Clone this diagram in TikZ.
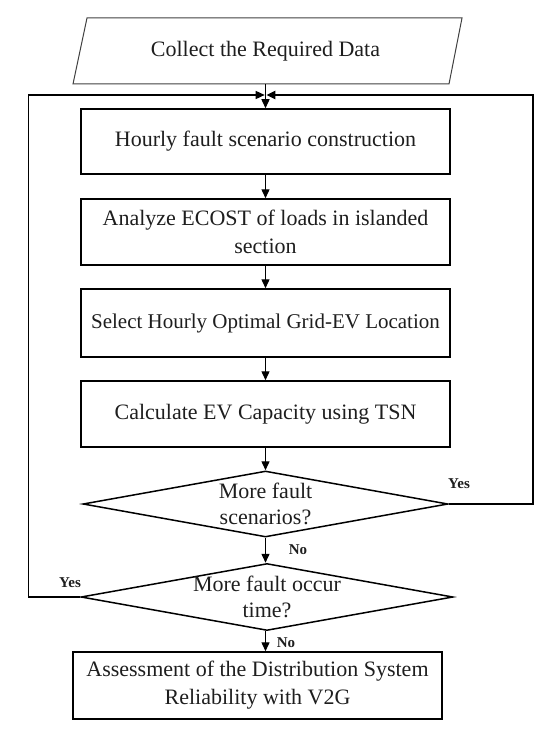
\documentclass[tikz,border=0pt]{standalone}
\usepackage{fontspec}
\setmainfont{Liberation Serif}
\usetikzlibrary{arrows.meta,shapes.geometric,calc}
\definecolor{ink}{HTML}{1E1E1E}
\tikzset{
  procbox/.style={draw=black, line width=1.5pt, minimum width=369pt, inner sep=0pt,
    align=center, text=ink, font=\fontsize{22}{28}\selectfont},
  datatext/.style={minimum width=360pt, minimum height=66pt, inner sep=0pt,
    text=ink, font=\fontsize{22}{28}\selectfont},
  para/.style={draw=black!75, line width=1pt},
  decision/.style={diamond, draw=black, line width=1.5pt, inner sep=0pt},
  dtext/.style={align=center, text=ink, font=\fontsize{22}{26}\selectfont},
  arr/.style={line width=1.4pt, -{Triangle[length=9pt,width=8pt]}},
  arrthick/.style={line width=2.3pt, -{Triangle[length=9pt,width=8pt]}},
  lbl/.style={text=ink, font=\bfseries\fontsize{15}{17}\selectfont, inner sep=0pt}
}
\begin{document}
\begin{tikzpicture}[x=1pt,y=-1pt]
\useasboundingbox (0,0) rectangle (555,738);
% input parallelogram
\node[datatext] (data) at (265.5,51) {Collect the Required Data};
\draw[para] (87,18) -- (462,18) -- (449,84) -- (73,84) -- cycle;
\coordinate (j) at (265.5,95);
% process boxes
\node[procbox, minimum height=65pt] (b1) at (265.5,141.5) {Hourly fault scenario construction};
\node[procbox, minimum height=66pt] (b2) at (265.5,232) {Analyze ECOST of loads in islanded\\section};
\node[procbox, minimum height=68pt, font=\fontsize{21}{28}\selectfont] (b3) at (265.5,323) {Select Hourly Optimal Grid-EV Location};
\node[procbox, minimum height=66pt] (b4) at (265.5,414) {Calculate EV Capacity using TSN};
% decisions
\node[decision, minimum width=365pt, minimum height=66pt,
  label={[dtext]center:More fault\\scenarios?}] (d1) at (265.5,504) {};
\node[decision, minimum width=372pt, minimum height=67pt,
  label={[dtext]center:More fault occur\\time?}] (d2) at (267,597) {};
% final box
\node[procbox, minimum height=67pt] (fin) at (257.5,685.5) {Assessment of the Distribution System\\Reliability with V2G};
% connectors
\draw[arr] (data.south) -- (b1.north);
\draw[arr] (b1.south) -- (b2.north);
\draw[arr] (b2.south) -- (b3.north);
\draw[arr] (b3.south) -- (b4.north);
\draw[arr] (b4.south) -- (d1.north);
\draw[arr] (d1.south) -- (d1.south |- d2.north);
\draw[arr] (d1.south |- d2.south) -- (d1.south |- fin.north);
\draw[arr] (d2.west) -- ++(-52,0) |- ([xshift=-0.8pt]j);
\draw[arrthick] (d1.east) -- ++(84,0) |- ([xshift=0.8pt]j);
% labels
\node[lbl] (y1) at (459,484) {Yes};
\node[lbl] (n1) at (298,550) {No};
\node[lbl] (y2) at (70,583) {Yes};
\node[lbl] (n2) at (286,643) {No};
\end{tikzpicture}
\end{document}
